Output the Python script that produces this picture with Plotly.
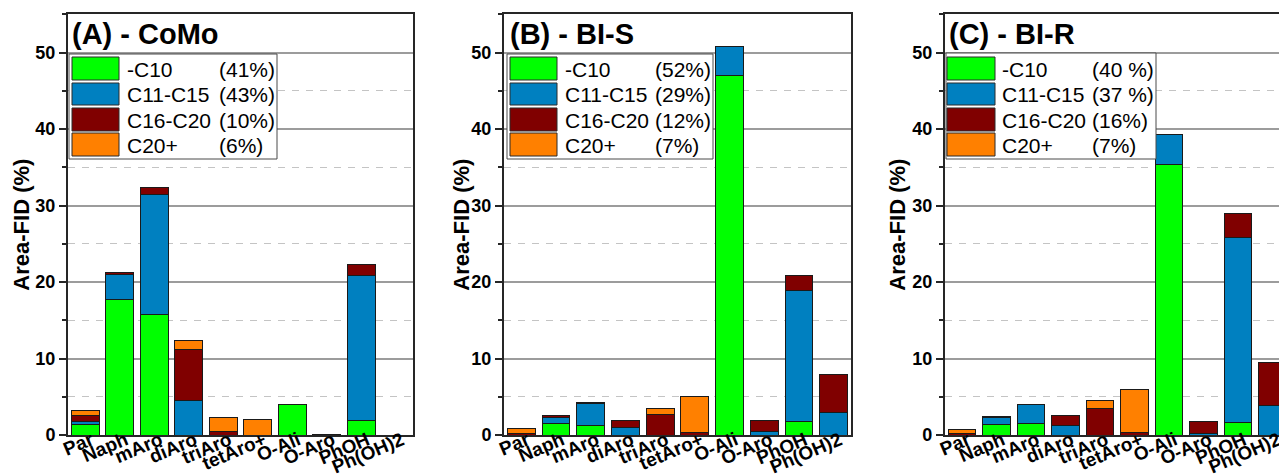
import plotly.graph_objects as go

# ---------------- data ----------------
categories = ["Par", "Naph", "mAro", "diAro", "triAro", "tetAro+", "O-Ali", "O-Aro", "PhOH", "Ph(OH)2"]
series_names = ["-C10", "C11-C15", "C16-C20", "C20+"]
series_colors = ["#00FF00", "#0080C0", "#800000", "#FF8000"]

# (A) - CoMo
como_c10 = [1.4, 17.7, 15.7, 0, 0, 0, 3.95, 0, 1.95, 0]
como_c11_15 = [0.4, 3.3, 15.75, 4.45, 0, 0, 0, 0.12, 18.9, 0]
como_c16_20 = [0.75, 0.3, 0.9, 6.75, 0.5, 0, 0, 0, 1.45, 0]
como_c20p = [0.6, 0, 0, 1.15, 1.85, 2.0, 0, 0, 0, 0]
como_pct = ["(41%)", "(43%)", "(10%)", "(6%)"]

# (B) - BI-S
bis_c10 = [0, 1.55, 1.3, 0, 0, 0, 46.95, 0, 1.8, 0]
bis_c11_15 = [0, 0.75, 2.8, 1.0, 0, 0, 3.85, 0.5, 17.15, 3.0]
bis_c16_20 = [0.2, 0.3, 0.2, 0.85, 2.65, 0.35, 0, 1.45, 1.85, 4.9]
bis_c20p = [0.7, 0, 0, 0, 0.75, 4.7, 0, 0, 0, 0]
bis_pct = ["(52%)", "(29%)", "(12%)", "(7%)"]

# (C) - BI-R
bir_c10 = [0, 1.4, 1.45, 0, 0, 0, 35.3, 0, 1.6, 0]
bir_c11_15 = [0, 0.85, 2.5, 1.3, 0, 0, 3.95, 0.25, 24.2, 3.8]
bir_c16_20 = [0.25, 0.2, 0.1, 1.2, 3.45, 0.35, 0, 1.5, 3.1, 5.7]
bir_c20p = [0.5, 0, 0, 0, 1.0, 5.55, 0, 0, 0, 0]
bir_pct = ["(40 %)", "(37 %)", "(16%)", "(7%)"]

panel_titles = ["(A) - CoMo", "(B) - BI-S", "(C) - BI-R"]
y_title = "Area-FID (%)"
y_ticks = [0, 10, 20, 30, 40, 50]

# ---------------- layout helpers ----------------
W, H = 1279, 476
FONT = "Arial, Liberation Sans, sans-serif"


def px(x):
    return x / W


def py(y):
    return 1 - y / H


panels = [
    dict(data=[como_c10, como_c11_15, como_c16_20, como_c20p], pct=como_pct,
         dom=(68, 413), xr=[-0.5, 9.5], mirror_y=True,
         box=(69, 277, 54, 159), sw=(72, 119), name_x=125, pct_x=217, ytx=22),
    dict(data=[bis_c10, bis_c11_15, bis_c16_20, bis_c20p], pct=bis_pct,
         dom=(504, 851), xr=[-0.5, 9.5], mirror_y=True,
         box=(507, 713, 54, 159), sw=(510, 557), name_x=563, pct_x=653, ytx=462),
    dict(data=[bir_c10, bir_c11_15, bir_c16_20, bir_c20p], pct=bir_pct,
         dom=(944.8, 1279), xr=[-0.5, 9.19], mirror_y=False,
         box=(946, 1156, 53, 159), sw=(947, 995), name_x=1000, pct_x=1090, ytx=898),
]
row_y = [(57, 80), (83, 105), (108, 131), (133, 156)]
plot_top, plot_bot = 14.3, 435

fig = go.Figure()
shapes = []
annotations = []

for i, p in enumerate(panels):
    sfx = "" if i == 0 else str(i + 1)
    for k in range(4):
        vals = [v if v else None for v in p["data"][k]]
        fig.add_trace(go.Bar(
            x=categories, y=vals, name=series_names[k],
            marker=dict(color=series_colors[k], line=dict(color="#1a1a1a", width=1)),
            xaxis="x" + sfx, yaxis="y" + sfx, showlegend=False,
        ))
    fig.layout["xaxis" + sfx] = dict(
        domain=[px(p["dom"][0]), px(p["dom"][1])], anchor="y" + sfx, automargin=False,
        range=p["xr"], showline=True, linewidth=2, linecolor="#262626", mirror=True,
        ticks="", showgrid=False, tickangle=-23, ticklabelstandoff=-15, ticklabelshift=6,
        tickfont=dict(family=FONT, size=19, color="black", weight="bold"),
        fixedrange=True,
    )
    fig.layout["yaxis" + sfx] = dict(
        domain=[py(plot_bot), py(plot_top)], anchor="x" + sfx, automargin=False,
        range=[0, 55], tickvals=y_ticks, showline=True, linewidth=2, linecolor="#262626",
        mirror=p["mirror_y"], ticks="outside", ticklen=7, tickwidth=2, tickcolor="#262626",
        showgrid=True, gridcolor="#9c9c9c", gridwidth=1.5, zeroline=False,
        minor=dict(dtick=5, ticks="outside", ticklen=4, tickwidth=1.5, tickcolor="#262626",
                   showgrid=True, gridcolor="#c4c4c4", gridwidth=1, griddash="7px,7px"),
        tickfont=dict(family=FONT, size=18, color="black", weight="bold"),
        fixedrange=True,
    )
    annotations.append(dict(
        text=panel_titles[i], xref="paper", yref="paper", x=px(p["box"][0] + 1), y=py(34),
        xanchor="left", yanchor="middle", showarrow=False,
        font=dict(family=FONT, size=29, color="black", weight="bold"),
    ))
    annotations.append(dict(
        text=y_title, xref="paper", yref="paper", x=px(p["ytx"]), y=py((plot_top + plot_bot) / 2),
        xanchor="center", yanchor="middle", textangle=-90, showarrow=False,
        font=dict(family=FONT, size=22, color="black", weight="bold"),
    ))
    bx0, bx1, by0, by1 = p["box"]
    shapes.append(dict(type="rect", xref="paper", yref="paper", x0=px(bx0), x1=px(bx1),
                       y0=py(by1), y1=py(by0), fillcolor="white",
                       line=dict(color="#4a4a4a", width=1), layer="above"))
    for k in range(4):
        r0, r1 = row_y[k]
        shapes.append(dict(type="rect", xref="paper", yref="paper",
                           x0=px(p["sw"][0]), x1=px(p["sw"][1]), y0=py(r1), y1=py(r0),
                           fillcolor=series_colors[k], line=dict(color="#2a2a2a", width=1),
                           layer="above"))
        yc = py((r0 + r1) / 2 + 0.5)
        annotations.append(dict(
            text=series_names[k], xref="paper", yref="paper", x=px(p["name_x"]), y=yc,
            xanchor="left", yanchor="middle", showarrow=False,
            font=dict(family=FONT, size=21, color="black"),
        ))
        annotations.append(dict(
            text=p["pct"][k], xref="paper", yref="paper", x=px(p["pct_x"]), y=yc,
            xanchor="left", yanchor="middle", showarrow=False,
            font=dict(family=FONT, size=21, color="black"),
        ))

fig.update_layout(
    width=W, height=H, margin=dict(l=0, r=0, t=0, b=0, autoexpand=False),
    barmode="stack", bargap=0.2,
    paper_bgcolor="white", plot_bgcolor="white",
    shapes=shapes, annotations=annotations, showlegend=False,
    font=dict(family=FONT, color="black"),
)

fig.write_html(
    "out.html",
    config={"displayModeBar": False, "responsive": False},
    post_script="document.body.style.margin='0';",
)
